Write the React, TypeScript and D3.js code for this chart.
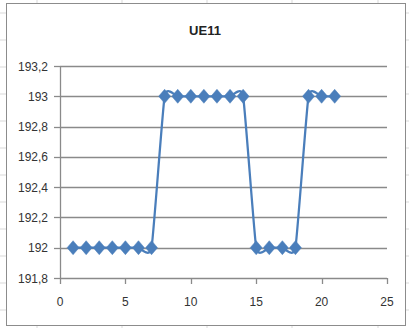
import React from "react";
import * as d3 from "d3";

const xValues = [1, 2, 3, 4, 5, 6, 7, 8, 9, 10, 11, 12, 13, 14, 15, 16, 17, 18, 19, 20, 21];
const yValues = [192, 192, 192, 192, 192, 192, 192, 193, 193, 193, 193, 193, 193, 193, 192, 192, 192, 192, 193, 193, 193];
const yTicks = [191.8, 192, 192.2, 192.4, 192.6, 192.8, 193, 193.2];
const xTicks = [0, 5, 10, 15, 20, 25];
const title = "UE11";

const W = 409;
const H = 328;
const left = 60, right = 387, top = 66, bottom = 278;

export default function App() {
  const x = d3.scaleLinear().domain([0, 25]).range([left, right]);
  const y = d3.scaleLinear().domain([191.8, 193.2]).range([bottom, top]);
  const pts: [number, number][] = xValues.map((v, i) => [x(v), y(yValues[i])]);
  const line = d3.line().curve(d3.curveCardinal.tension(0.55))(pts) || "";
  const fmt = (v: number) => (Math.round(v * 10) / 10).toString().replace(".", ",");
  const font = "'Liberation Sans', Arial, sans-serif";
  const diamond = (cx: number, cy: number) =>
    `M${cx},${cy - 7}L${cx + 6},${cy}L${cx},${cy + 7}L${cx - 6},${cy}Z`;
  const bgCols = [37, 122, 207, 292, 378];
  const bgRows = [13, 40, 67, 94, 121, 148, 175, 202, 229, 256, 283, 310];
  return (
    <svg width={W} height={H} style={{ position: "absolute", left: 0, top: 0, background: "#fff" }}>
      {bgCols.map((c) => (
        <line key={"bc" + c} x1={c} x2={c} y1={0} y2={H} stroke="#d9d9d9" strokeWidth={1} />
      ))}
      {bgRows.map((r) => (
        <line key={"br" + r} x1={0} x2={W} y1={r} y2={r} stroke="#d9d9d9" strokeWidth={1} />
      ))}
      <rect x={6.5} y={3.5} width={399} height={322} fill="#fff" stroke="#8c8c8c" strokeWidth={1} />
      <text x={205} y={35} textAnchor="middle" fontFamily={font} fontWeight="bold" fontSize={13} fill="#222">
        {title}
      </text>
      {yTicks.map((t) => (
        <g key={"y" + t}>
          {t > 191.85 && (
            <line x1={left} x2={right} y1={Math.round(y(t)) + 0.5} y2={Math.round(y(t)) + 0.5} stroke="#8a8a8a" strokeWidth={1.3} />
          )}
          <line x1={left - 6} x2={left} y1={Math.round(y(t)) + 0.5} y2={Math.round(y(t)) + 0.5} stroke="#8a8a8a" strokeWidth={1.3} />
          <text x={48} y={y(t) + 4.5} textAnchor="end" fontFamily={font} fontSize={12} fill="#333">
            {fmt(t)}
          </text>
        </g>
      ))}
      <line x1={left} x2={right} y1={bottom + 0.5} y2={bottom + 0.5} stroke="#8a8a8a" strokeWidth={1.3} />
      <line x1={left + 0.5} x2={left + 0.5} y1={top} y2={bottom} stroke="#8a8a8a" strokeWidth={1.3} />
      {xTicks.map((t) => (
        <g key={"x" + t}>
          <line x1={Math.round(x(t)) + 0.5} x2={Math.round(x(t)) + 0.5} y1={bottom} y2={bottom + 6} stroke="#8a8a8a" strokeWidth={1.3} />
          <text x={x(t)} y={306} textAnchor="middle" fontFamily={font} fontSize={12} fill="#333">
            {t}
          </text>
        </g>
      ))}
      <path d={line} fill="none" stroke="#4a7ebb" strokeWidth={2.25} />
      {pts.map(([cx, cy], i) => (
        <path key={"m" + i} d={diamond(cx, cy)} fill="#4a7ebb" stroke="#4a7ebb" strokeWidth={0.5} />
      ))}
    </svg>
  );
}
